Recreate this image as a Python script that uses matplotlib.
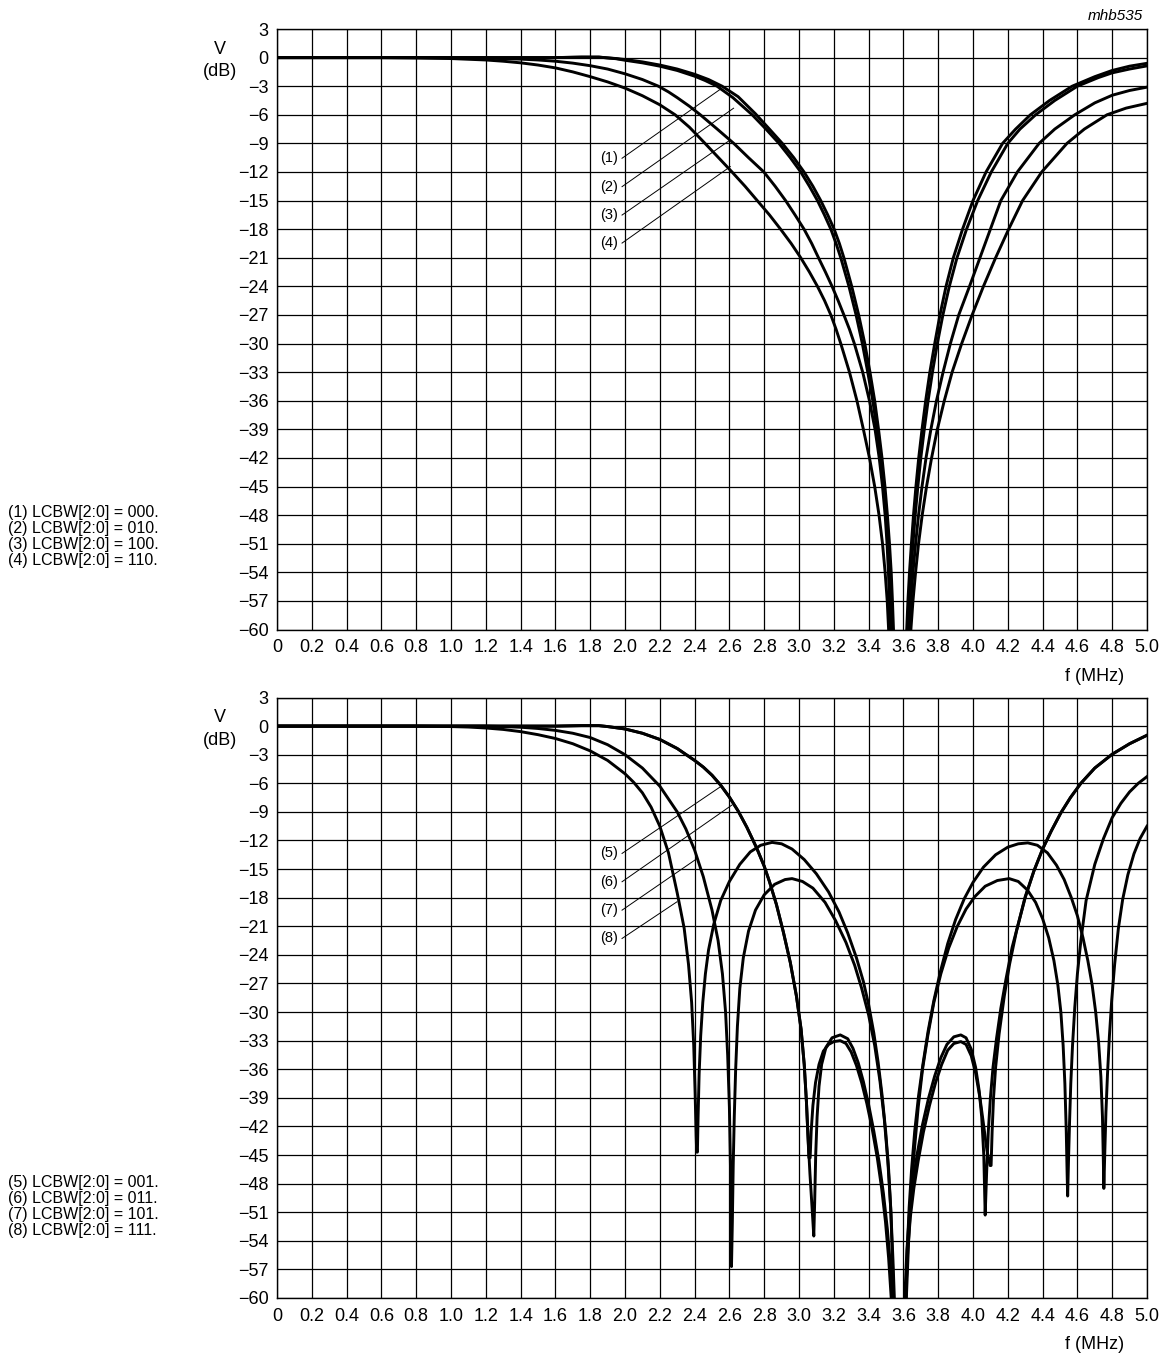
import numpy as np
import matplotlib
matplotlib.use('Agg')
import matplotlib.pyplot as plt

plt.rcParams['font.family'] = ['Liberation Sans', 'DejaVu Sans']

# ---------------- upper chart (LCBW = 000, 010, 100, 110) ----------------
c1_x = [0, 0.8, 1.2, 1.6, 1.75, 1.85, 1.95, 2.0, 2.1, 2.2, 2.3, 2.4, 2.48, 2.558, 2.65, 2.75, 2.83, 2.904, 2.97,
        3.029, 3.08, 3.125, 3.165, 3.202, 3.232, 3.258, 3.303, 3.343, 3.378, 3.408, 3.435, 3.457, 3.477, 3.494,
        3.508, 3.52, 3.53, 3.537, 3.543, 3.547,
        3.614, 3.619, 3.626, 3.635, 3.646, 3.658, 3.672, 3.688, 3.707, 3.728, 3.752, 3.78, 3.81, 3.845, 3.887,
        3.94, 4.0, 4.075, 4.17, 4.245, 4.33, 4.44, 4.57, 4.7, 4.8, 4.9, 5.0]
c1_y = [0, 0, 0, 0, 0.05, 0.05, -0.1, -0.2, -0.45, -0.78, -1.2, -1.75, -2.3, -3.0, -4.1, -5.9, -7.5, -9, -10.5,
        -12, -13.5, -15, -16.5, -18, -19.5, -21, -24, -27, -30, -33, -36, -39, -42, -45,
        -48, -51, -54, -57, -60, -63,
        -63, -60, -57, -54, -51, -48, -45, -42, -39, -36, -33, -30, -27, -24, -21,
        -18, -15, -12, -9, -7.5, -6, -4.5, -3, -2.0, -1.35, -0.9, -0.6]

c2_x = [0, 0.8, 1.2, 1.6, 1.75, 1.85, 1.95, 2.0, 2.1, 2.2, 2.3, 2.4, 2.46, 2.529, 2.62, 2.731, 2.81, 2.885, 2.95,
        3.01, 3.06, 3.106, 3.146, 3.183, 3.213, 3.24, 3.287, 3.328, 3.364, 3.395, 3.424, 3.448, 3.468, 3.486,
        3.501, 3.514, 3.523, 3.53, 3.535, 3.54,
        3.62, 3.625, 3.633, 3.643, 3.655, 3.668, 3.683, 3.70, 3.72, 3.742, 3.767, 3.795, 3.827, 3.864, 3.908,
        3.963, 4.027, 4.105, 4.2, 4.27, 4.36, 4.47, 4.6, 4.72, 4.8, 4.9, 5.0]
c2_y = [0, 0, 0, 0, 0.05, 0.05, -0.12, -0.28, -0.55, -0.9, -1.35, -1.95, -2.4, -3.0, -4.2, -6, -7.5, -9, -10.5,
        -12, -13.5, -15, -16.5, -18, -19.5, -21, -24, -27, -30, -33, -36, -39, -42, -45,
        -48, -51, -54, -57, -60, -63,
        -63, -60, -57, -54, -51, -48, -45, -42, -39, -36, -33, -30, -27, -24, -21,
        -18, -15, -12, -9, -7.5, -6, -4.5, -3.0, -2.1, -1.6, -1.2, -0.87]

c3_x = [0, 0.8, 1.0, 1.2, 1.4, 1.5, 1.6, 1.7, 1.8, 1.9, 2.0, 2.1, 2.192, 2.25, 2.3, 2.37, 2.433, 2.53, 2.625,
        2.71, 2.798, 2.863, 2.923, 2.977, 3.029, 3.073, 3.112, 3.152, 3.19, 3.225, 3.258, 3.29, 3.318, 3.366,
        3.405, 3.437, 3.461, 3.48, 3.495, 3.506, 3.514, 3.52, 3.524, 3.527,
        3.628, 3.633, 3.643, 3.655, 3.67, 3.687, 3.707, 3.73, 3.758, 3.79, 3.828, 3.87, 3.918, 3.98, 4.04,
        4.1, 4.16, 4.255, 4.38, 4.47, 4.585, 4.7, 4.8, 4.9, 5.0]
c3_y = [0, 0, -0.02, -0.06, -0.16, -0.25, -0.38, -0.58, -0.85, -1.2, -1.7, -2.3, -3, -3.6, -4.2, -5.1, -6, -7.5, -9,
        -10.5, -12, -13.5, -15, -16.5, -18, -19.5, -21, -22.5, -24, -25.5, -27, -28.5, -30, -33,
        -36, -39, -42, -45, -48, -51, -54, -57, -60, -63,
        -63, -60, -57, -54, -51, -48, -45, -42, -39, -36, -33, -30, -27, -24, -21,
        -18, -15, -12, -9, -7.5, -6, -4.75, -3.95, -3.45, -3.1]

c4_x = [0, 0.6, 0.8, 1.0, 1.2, 1.3, 1.4, 1.5, 1.6, 1.7, 1.8, 1.9, 2.0, 2.1, 2.2, 2.288, 2.37, 2.452, 2.535,
        2.615, 2.69, 2.76, 2.83, 2.894, 2.955, 3.01, 3.06, 3.106, 3.147, 3.183, 3.213, 3.24, 3.29, 3.333, 3.37,
        3.405, 3.435, 3.46, 3.48, 3.495, 3.507, 3.515, 3.52,
        3.638, 3.643, 3.655, 3.67, 3.687, 3.708, 3.733, 3.762, 3.795, 3.835, 3.88, 3.935, 3.995, 4.06, 4.13,
        4.205, 4.285, 4.395, 4.54, 4.64, 4.77, 4.88, 5.0]
c4_y = [0, 0, -0.04, -0.1, -0.25, -0.38, -0.55, -0.78, -1.08, -1.5, -2.0, -2.55, -3.2, -4.0, -4.95, -6.0, -7.3, -8.85,
        -10.45, -12, -13.5, -15, -16.5, -18, -19.5, -21, -22.5, -24, -25.5, -27, -28.5, -30, -33, -36, -39,
        -42, -45, -48, -51, -54, -57, -60, -63,
        -63, -60, -57, -54, -51, -48, -45, -42, -39, -36, -33, -30, -27, -24, -21,
        -18, -15, -12, -9, -7.5, -6, -5.3, -4.8]

# ---------------- lower chart (LCBW = 001, 011, 101, 111) ----------------
c5_x = [0, 1.0, 1.6, 1.75, 1.85, 1.9, 2.0, 2.1, 2.2, 2.3, 2.4, 2.45, 2.5, 2.55, 2.6, 2.65, 2.7, 2.757, 2.8,
        2.83, 2.87, 2.91, 2.95, 2.985, 3.012, 3.03, 3.043, 3.051, 3.057, 3.064, 3.07, 3.08, 3.095, 3.115, 3.14,
        3.17, 3.2, 3.237, 3.27, 3.3, 3.33, 3.36, 3.39, 3.42, 3.45, 3.475, 3.497, 3.515, 3.53, 3.535,
        3.608, 3.613, 3.625, 3.64, 3.66, 3.685, 3.715, 3.75, 3.785, 3.82, 3.855, 3.89, 3.93, 3.96, 3.99, 4.015,
        4.04, 4.062, 4.08, 4.098, 4.104, 4.11, 4.118, 4.13, 4.15, 4.18, 4.21, 4.25, 4.3, 4.35, 4.4, 4.45,
        4.505, 4.56, 4.62, 4.7, 4.8, 4.9, 5.0]
c5_y = [0, 0, 0, 0.05, 0.05, -0.05, -0.3, -0.75, -1.4, -2.35, -3.6, -4.3, -5.15, -6.2, -7.45, -8.9, -10.6, -12.8, -14.7,
        -16.3, -18.7, -21.6, -24.8, -28.3, -31.8, -35.5, -39.5, -42.8, -45.3, -45.3, -42.5, -39.8, -37.4, -35.5, -34.1,
        -33.4, -33.1, -33.0, -33.3, -34.2, -35.6, -37.4, -39.6, -42.2, -45.3, -48.5, -52, -55.8, -60, -63,
        -63, -60, -55, -51.5, -48.5, -45.6, -42.6, -39.8, -37.4, -35.5, -34, -33.3, -33.1, -33.4, -34.6, -36.4,
        -39, -42, -44.5, -46.1, -46.1, -42.5, -39, -35.8, -32.3, -28.3, -25.0, -21.5, -17.9, -15.2, -12.9, -11.0,
        -9.1, -7.5, -6.0, -4.4, -2.95, -1.85, -0.96]

c6_x = [0, 1.0, 1.6, 1.75, 1.85, 1.9, 2.0, 2.1, 2.2, 2.3, 2.4, 2.45, 2.5, 2.55, 2.6, 2.65, 2.7, 2.757, 2.8,
        2.83, 2.87, 2.91, 2.95, 2.985, 3.012, 3.03, 3.043, 3.051, 3.063, 3.075, 3.085, 3.09, 3.096, 3.104, 3.115,
        3.13, 3.155, 3.19, 3.237, 3.28, 3.31, 3.34, 3.37, 3.40, 3.43, 3.46, 3.485, 3.508, 3.525, 3.537, 3.542,
        3.603, 3.608, 3.62, 3.635, 3.655, 3.68, 3.71, 3.745, 3.78, 3.815, 3.85, 3.89, 3.93, 3.96, 3.99, 4.015,
        4.035, 4.05, 4.062, 4.07, 4.078, 4.088, 4.1, 4.115, 4.135, 4.16, 4.19, 4.225, 4.3, 4.35, 4.4, 4.45,
        4.505, 4.56, 4.62, 4.7, 4.8, 4.9, 5.0]
c6_y = [0, 0, 0, 0.05, 0.05, -0.05, -0.3, -0.75, -1.4, -2.35, -3.6, -4.3, -5.15, -6.2, -7.45, -8.9, -10.6, -12.8, -14.7,
        -16.3, -18.7, -21.6, -24.8, -28.3, -31.8, -35.5, -39.5, -42.8, -47, -50.5, -53.5, -50, -45, -41, -37.8,
        -35.5, -33.7, -32.7, -32.4, -32.8, -33.8, -35.3, -37.3, -39.7, -42.5, -45.7, -49, -52.8, -56.5, -60, -63,
        -63, -60, -55, -51, -47.8, -44.8, -41.8, -39, -36.7, -34.8, -33.4, -32.6, -32.4, -32.7, -33.9, -35.8,
        -38.2, -41, -45, -51.3, -47, -42.5, -39, -35.8, -32.8, -29.6, -26.5, -23.2, -18.0, -15.2, -12.9, -11.0,
        -9.1, -7.5, -6.0, -4.4, -2.95, -1.85, -0.96]

c7_x = [0, 0.8, 1.2, 1.3, 1.4, 1.5, 1.6, 1.7, 1.8, 1.9, 2.0, 2.1, 2.2, 2.3, 2.35, 2.4, 2.45, 2.5, 2.535, 2.56,
        2.578, 2.59, 2.6, 2.607, 2.612, 2.617, 2.622, 2.628, 2.636, 2.646, 2.66, 2.68, 2.71, 2.75, 2.8, 2.86,
        2.92, 2.96, 3.02, 3.08, 3.15, 3.21, 3.27, 3.32, 3.36, 3.40, 3.435, 3.465, 3.49, 3.51, 3.527, 3.54,
        3.548, 3.552,
        3.612, 3.617, 3.63, 3.645, 3.663, 3.685, 3.71, 3.74, 3.775, 3.815, 3.86, 3.91, 3.96, 4.01, 4.07, 4.14,
        4.208, 4.26, 4.313, 4.36, 4.40, 4.435, 4.465, 4.488, 4.505, 4.518, 4.528, 4.536, 4.541, 4.544, 4.549,
        4.555, 4.562, 4.572, 4.585, 4.6, 4.62, 4.65, 4.7, 4.75, 4.8, 4.85, 4.9, 4.95, 5.0]
c7_y = [0, 0, 0, -0.05, -0.12, -0.25, -0.45, -0.75, -1.2, -1.95, -3.0, -4.4, -6.3, -9.0, -10.8, -13.0, -15.8, -19.3, -22.5,
        -26, -30, -34.5, -40, -47, -56.7, -52, -46, -41, -36, -31.5, -27.5, -24.3, -21.5, -19.3, -17.7, -16.6,
        -16.1, -16.0, -16.3, -17.0, -18.5, -20.4, -22.7, -25.1, -27.5, -30.3, -33.5, -37.2, -41.2, -45.5, -50.5, -56,
        -60, -63,
        -63, -60, -54, -49, -44.5, -40, -36, -32.5, -29, -26, -23.3, -21, -19.2, -17.9, -16.8, -16.2,
        -16.0, -16.3, -17.2, -18.5, -20.2, -22.2, -24.6, -27.2, -30, -33.5, -37.5, -42.5, -47, -49.3, -45.5,
        -41.5, -37.5, -33.5, -29.5, -26.0, -22.5, -18.3, -14.5, -11.8, -9.6, -8.1, -6.9, -6.0, -5.3]

c8_x = [0, 0.8, 1.0, 1.1, 1.2, 1.3, 1.4, 1.5, 1.6, 1.7, 1.8, 1.9, 2.0, 2.05, 2.1, 2.15, 2.2, 2.25, 2.3, 2.34,
        2.365, 2.383, 2.395, 2.403, 2.409, 2.412, 2.416, 2.42, 2.426, 2.435, 2.447, 2.462, 2.48, 2.51, 2.55, 2.6,
        2.66, 2.72, 2.78, 2.845, 2.9, 2.96, 3.03, 3.1, 3.17, 3.23, 3.28, 3.33, 3.37, 3.40, 3.43, 3.455, 3.478,
        3.498, 3.515, 3.528, 3.537, 3.543, 3.546,
        3.61, 3.615, 3.622, 3.633, 3.647, 3.665, 3.687, 3.712, 3.742, 3.775, 3.812, 3.855, 3.9, 3.95, 4.0, 4.06,
        4.13, 4.2, 4.26, 4.315, 4.37, 4.428, 4.48, 4.524, 4.565, 4.6, 4.632, 4.66, 4.685, 4.705, 4.722, 4.735,
        4.744, 4.749, 4.752, 4.757, 4.764, 4.773, 4.784, 4.797, 4.814, 4.835, 4.86, 4.89, 4.925, 4.96, 5.0]
c8_y = [0, 0, -0.05, -0.1, -0.2, -0.35, -0.58, -0.9, -1.3, -1.85, -2.6, -3.6, -5.0, -5.9, -7.0, -8.5, -10.5, -13.3, -17.5,
        -21.2, -25, -29, -33.5, -38.5, -43, -44.7, -44.7, -41, -36.5, -32.5, -29, -26, -23.5, -20.8, -18.3, -16.3,
        -14.5, -13.2, -12.5, -12.2, -12.35, -12.9, -14.0, -15.5, -17.4, -19.5, -21.7, -24.3, -26.8, -29.2, -32.2, -35.3, -38.8,
        -42.5, -46.5, -51, -56, -60, -63,
        -63, -60, -55, -50.5, -46.5, -42.5, -38.8, -35.5, -32, -28.8, -25.8, -22.8, -20.3, -18.1, -16.4, -14.8,
        -13.5, -12.7, -12.35, -12.25, -12.5, -13.3, -14.6, -16.1, -18, -19.9, -22.2, -24.6, -27.2, -30.0, -33.2, -36.8,
        -41, -45.5, -48.5, -45, -40.5, -36.5, -32.5, -28.8, -25, -21.3, -18.2, -15.6, -13.4, -11.8, -10.5]

top_labels = ['(1)', '(2)', '(3)', '(4)']
top_leader_ends = [(2.548, -3.32), (2.624, -5.31), (2.605, -8.64), (2.605, -11.44)]
top_leader_starts = [-10.56, -13.54, -16.52, -19.46]
bot_labels = ['(5)', '(6)', '(7)', '(8)']
bot_leader_ends = [(2.548, -6.37), (2.614, -8.29), (2.414, -13.9), (2.299, -18.43)]
bot_leader_starts = [-13.36, -16.33, -19.31, -22.28]

top_legend = ['(1) LCBW[2:0] = 000.', '(2) LCBW[2:0] = 010.', '(3) LCBW[2:0] = 100.', '(4) LCBW[2:0] = 110.']
bot_legend = ['(5) LCBW[2:0] = 001.', '(6) LCBW[2:0] = 011.', '(7) LCBW[2:0] = 101.', '(8) LCBW[2:0] = 111.']

x_ticks = np.round(np.arange(0, 5.01, 0.2), 1)
x_ticklabels = ['0'] + ['%.1f' % v for v in x_ticks[1:]]
y_ticks = np.arange(-60, 4, 3)

W, H = 1166, 1356
fig = plt.figure(figsize=(W / 100, H / 100), dpi=100)


def px_axes(left, top, right, bottom):
    return fig.add_axes([left / W, 1 - bottom / H, (right - left) / W, (bottom - top) / H])


def setup(ax):
    ax.set_xlim(0, 5.0)
    ax.set_ylim(-60, 3)
    ax.set_xticks(x_ticks)
    ax.set_xticklabels(x_ticklabels)
    ax.set_yticks(y_ticks)
    ax.set_yticklabels(['%d' % v if v >= 0 else '\u2212%d' % -v for v in y_ticks])
    ax.tick_params(length=0, labelsize=13, pad=6)
    ax.tick_params(axis='x', pad=7)
    ax.grid(True, color='black', lw=0.9)
    ax.set_axisbelow(True)
    for s in ax.spines.values():
        s.set_linewidth(1.0)
    ax.text(-0.33, 0.85, 'V', fontsize=13, ha='center', va='center')
    ax.text(-0.33, -1.5, '(dB)', fontsize=13, ha='center', va='center')
    ax.text(1.0 - 23 / 870, -0.078, 'f (MHz)', fontsize=13, ha='right', va='center',
            transform=ax.transAxes)


def leaders(ax, labels, ends, starts):
    for lab, (ex, ey), sy in zip(labels, ends, starts):
        ax.plot([1.983, ex], [sy, ey], color='black', lw=0.7, zorder=3)
        ax.text(1.962, sy, lab, fontsize=10.5, ha='right', va='center')


ax1 = px_axes(277, 29, 1147, 629.5)
setup(ax1)
for xs, ys in [(c1_x, c1_y), (c2_x, c2_y), (c3_x, c3_y), (c4_x, c4_y)]:
    ax1.plot(xs, ys, color='black', lw=2.1, solid_joinstyle='round', zorder=4)
leaders(ax1, top_labels, top_leader_ends, top_leader_starts)

ax2 = px_axes(277, 697.5, 1147, 1298)
setup(ax2)
for xs, ys in [(c5_x, c5_y), (c6_x, c6_y), (c7_x, c7_y), (c8_x, c8_y)]:
    ax2.plot(xs, ys, color='black', lw=2.1, solid_joinstyle='round', zorder=4)
leaders(ax2, bot_labels, bot_leader_ends, bot_leader_starts)

fig.text(1143 / W, 1 - 16 / H, 'mhb535', fontsize=11, style='italic', ha='right', va='center')

for i, t in enumerate(top_legend):
    fig.text(8 / W, 1 - (513 + 16 * i) / H, t, fontsize=11.5, ha='left', va='center')
for i, t in enumerate(bot_legend):
    fig.text(8 / W, 1 - (1183 + 16 * i) / H, t, fontsize=11.5, ha='left', va='center')

fig.savefig('out.png', dpi=100)
